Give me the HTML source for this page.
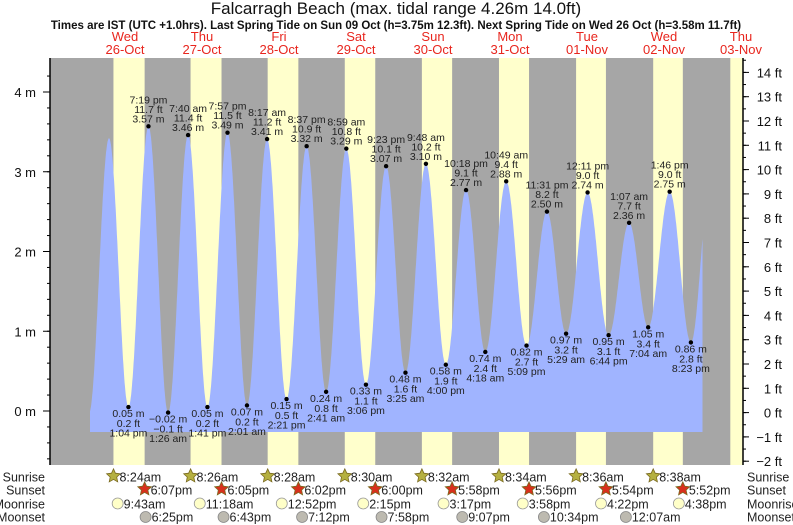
<!DOCTYPE html>
<html><head><meta charset="utf-8"><style>
body{margin:0;background:#fff;}
svg{display:block;font-family:"Liberation Sans",sans-serif;}
</style></head><body>
<svg id="chart" width="793" height="525" viewBox="0 0 793 525">
<text x="396" y="14" font-size="17" text-anchor="middle" fill="#111">Falcarragh Beach (max. tidal range 4.26m 14.0ft)</text>
<text x="396" y="29" font-size="11.5" font-weight="bold" text-anchor="middle" fill="#111">Times are IST (UTC +1.0hrs). Last Spring Tide on Sun 09 Oct (h=3.75m 12.3ft). Next Spring Tide on Wed 26 Oct (h=3.58m 11.7ft)</text>
<g id="bg"></g><g id="tide"></g><g id="labels"></g><g id="axes"></g><g id="astro"></g>
</svg>
<script>
// ---- data ----
const dayNames = ["Wed","Thu","Fri","Sat","Sun","Mon","Tue","Wed","Thu"];
const dayDates = ["26-Oct","27-Oct","28-Oct","29-Oct","30-Oct","31-Oct","01-Nov","02-Nov","03-Nov"];
const sunriseTimes = ["8:24am","8:26am","8:28am","8:30am","8:32am","8:34am","8:36am","8:38am","8:40am"];
const sunsetTimes = ["6:07pm","6:05pm","6:02pm","6:00pm","5:58pm","5:56pm","5:54pm","5:52pm","5:50pm"];
const moonriseTimes = ["9:43am","11:18am","12:52pm","2:15pm","3:17pm","3:58pm","4:22pm","4:38pm"];
const moonsetTimes = ["6:25pm","6:43pm","7:12pm","7:58pm","9:07pm","10:34pm","","12:07am"];
// tide extremes: day index, time label, height (m), labelled?
const tideDay = [0,0,0,0,1,1,1,1,2,2,2,2,3,3,3,3,4,4,4,4,5,5,5,5,6,6,6,7,7,7,7,8];
const tideTime = ["12:45am","7:01am","1:04pm","7:19pm","1:26am","7:40am","1:41pm","7:57pm","2:01am","8:17am","2:21pm","8:37pm","2:41am","8:59am","3:06pm","9:23pm","3:25am","9:48am","4:00pm","10:18pm","4:18am","10:49am","5:09pm","11:31pm","5:29am","12:11pm","6:44pm","1:07am","7:04am","1:46pm","8:23pm","2:25am"];
const tideHeight = [-0.03,3.42,0.05,3.57,-0.02,3.46,0.05,3.49,0.07,3.41,0.15,3.32,0.24,3.29,0.33,3.07,0.48,3.10,0.58,2.77,0.74,2.88,0.82,2.50,0.97,2.74,0.95,2.36,1.05,2.75,0.86,2.85];
const tideLabelled = [0,0,1,1,1,1,1,1,1,1,1,1,1,1,1,1,1,1,1,1,1,1,1,1,1,1,1,1,1,1,1,0];
const mTicks = [0,1,2,3,4];
const ftTicks = [-2,-1,0,1,2,3,4,5,6,7,8,9,10,11,12,13,14];

// ---- scales ----
const X0=86.5, DAY=77, L=50, R=743, T=58, B=465;
const xH = h => X0 + h*DAY/24;
const yM = m => 411 - m*79.75;
const yFt = f => 412.6 - f*24.3;
function hrs(s){const m=s.match(/(\d+):(\d+)(am|pm)/i);let h=+m[1]%12;if(m[3].toLowerCase()=="pm")h+=12;return h+ +m[2]/60;}
const NS="http://www.w3.org/2000/svg";
function mk(tag,attrs,parent,txt){const e=document.createElementNS(NS,tag);for(const k in attrs)e.setAttribute(k,attrs[k]);if(txt!==undefined)e.textContent=txt;parent.appendChild(e);return e;}
const bg=document.getElementById('bg'),tide=document.getElementById('tide'),lab=document.getElementById('labels'),ax=document.getElementById('axes'),astro=document.getElementById('astro');

// background
let r=mk('rect',{x:L,y:T,width:R-L,height:B-T,fill:'#a6a6a6'},bg);


for(let d=0;d<dayNames.length;d++){
  const x1=xH(d*24+hrs(sunriseTimes[d]));
  const x2=Math.min(R,xH(d*24+hrs(sunsetTimes[d])));
  if(x1<R){const b=mk('rect',{x:x1,y:T,width:x2-x1,height:B-T,fill:'#ffffcc'},bg);
  
  }
  const cx=xH(d*24+12);
  const t1=mk('text',{x:cx,y:41,'font-size':13,'text-anchor':'middle',fill:'#e8261e'},bg,dayNames[d]);
  
  
  const t2=mk('text',{x:cx,y:54,'font-size':13,'text-anchor':'middle',fill:'#e8261e'},bg,dayDates[d]);
  
  
}

// tide curve
const th=tideDay.map((d,i)=>d*24+hrs(tideTime[i]));
const hStart=(90-X0)*24/DAY, hEnd=8*24;
let pts=[];
for(let h=hStart;h<=hEnd+1e-6;h+=0.1){
  let i=0;while(i<th.length-2&&th[i+1]<h)i++;
  const f=Math.max(0,Math.min(1,(h-th[i])/(th[i+1]-th[i])));
  const v=tideHeight[i]+(tideHeight[i+1]-tideHeight[i])*(1-Math.cos(Math.PI*f))/2;
  pts.push(xH(h).toFixed(1)+','+yM(v).toFixed(1));
}
const yb=432;
const poly=mk('polygon',{points:xH(hStart)+','+yb+' '+pts.join(' ')+' '+xH(hEnd)+','+yb,fill:'#a0b4ff'},tide);



// extreme labels
for(let i=0;i<th.length;i++){
  if(!tideLabelled[i])continue;
  const x=xH(th[i]),y=yM(tideHeight[i]);
  const ft=(tideHeight[i]/0.3048).toFixed(1).replace('-','\u2212');
  const m=tideHeight[i].toFixed(2).replace('-','\u2212')+' m';
  const tm=tideTime[i].replace(/(am|pm)/,' $1');
  const high=(i>0&&tideHeight[i]>tideHeight[i-1]);
  const dot=mk('circle',{cx:x,cy:y,r:2.2,fill:'#000'},lab);
  
  
  const g=mk('g',{'font-size':10.5,'text-anchor':'middle',fill:'#222'},lab);
  
  
  if(high){mk('text',{x:x,y:y-23},g,tm);mk('text',{x:x,y:y-13.5},g,ft+' ft');mk('text',{x:x,y:y-4},g,m);}
  else{mk('text',{x:x,y:y+10},g,m);mk('text',{x:x,y:y+20},g,ft+' ft');mk('text',{x:x,y:y+29.5},g,tm);}
}

// axes
let a=mk('line',{x1:L,y1:T,x2:L,y2:B,stroke:'#000','stroke-width':1.5},ax);


a=mk('line',{x1:R,y1:T,x2:R,y2:B,stroke:'#000','stroke-width':1.5},ax);


for(let v=-0.6;v<=4.4;v+=0.2){const y=yM(v);if(y<T||y>B)continue;mk('line',{x1:L-3,y1:y,x2:L,y2:y,stroke:'#000'},ax);}
mTicks.forEach(v=>{const y=yM(v);mk('line',{x1:L-7,y1:y,x2:L,y2:y,stroke:'#000'},ax);
  const t=mk('text',{x:36,y:y+5,'font-size':13,'text-anchor':'end',fill:'#111'},ax,v+' m');
  
  });
for(let v=-2;v<=14.5;v+=0.5){const y=yFt(v);if(y<T||y>B)continue;mk('line',{x1:R,y1:y,x2:R+3,y2:y,stroke:'#000'},ax);}
ftTicks.forEach(v=>{const y=yFt(v);mk('line',{x1:R,y1:y,x2:R+6,y2:y,stroke:'#000'},ax);
  const t=mk('text',{x:782,y:y+5,'font-size':13,'text-anchor':'end',fill:'#111'},ax,(v<0?'\u2212'+(-v):v)+' ft');
  
  });

// astro rows
const rows=[["Sunrise",477],["Sunset",490],["Moonrise",504],["Moonset",517]];
rows.forEach(([n,y])=>{
  let t=mk('text',{x:45,y:y+4.5,'font-size':12.5,'text-anchor':'end',fill:'#222'},astro,n);
  
  
  t=mk('text',{x:747,y:y+4.5,'font-size':12.5,fill:'#222'},astro,n);
  
  
});
function star(cx,cy,fill){let p=[];for(let k=0;k<10;k++){const a=-Math.PI/2+k*Math.PI/5,rr=k%2?3.4:7.2;p.push((cx+rr*Math.cos(a)).toFixed(1)+','+(cy+rr*Math.sin(a)).toFixed(1));}return mk('polygon',{points:p.join(' '),fill:fill,stroke:'#7a6a20','stroke-width':0.8},astro);}
function item(x,y,icon,txt,name){
  const g=mk('g',{},astro);
  
  
  g.appendChild(icon);
  mk('text',{x:x+6,y:y+4.5,'font-size':12.5,fill:'#222'},g,txt);
}
for(let d=0;d<8;d++){
  let x=xH(d*24+hrs(sunriseTimes[d]));item(x,477,star(x,476,'#b5b040'),sunriseTimes[d],'sunrise-entry');
  x=xH(d*24+hrs(sunsetTimes[d]));item(x,490,star(x,489,'#d8301c'),sunsetTimes[d],'sunset-entry');
  x=xH(d*24+hrs(moonriseTimes[d]));item(x,504,mk('circle',{cx:x,cy:503.5,r:5.5,fill:'#ffffc8',stroke:'#999','stroke-width':0.8},astro),moonriseTimes[d],'moonrise-entry');
  if(moonsetTimes[d]){x=xH(d*24+hrs(moonsetTimes[d]));item(x,517,mk('circle',{cx:x,cy:517,r:5.5,fill:'#bdbab0',stroke:'#888','stroke-width':0.8},astro),moonsetTimes[d],'moonset-entry');}
}
</script>
</body></html>
